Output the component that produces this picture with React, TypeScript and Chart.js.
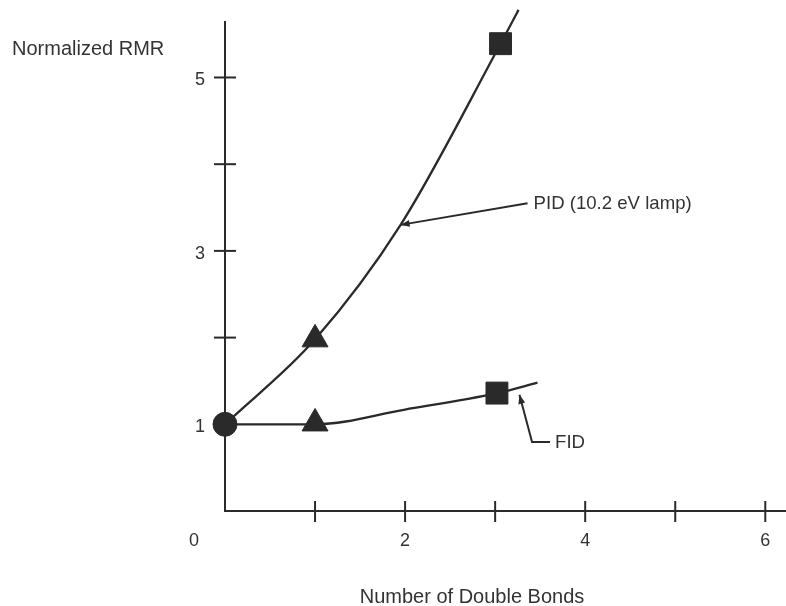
import React, { useEffect, useRef } from 'react';
import { Chart, registerables } from 'chart.js';

Chart.register(...registerables);

// ---- data ----
const pidCurveX = [0, 1, 1.95, 3.06, 3.26];
const pidCurveY = [1, 1.98, 3.3, 5.39, 5.78];
const fidCurveX = [0, 1, 2, 3.02, 3.47];
const fidCurveY = [1, 1.0, 1.17, 1.36, 1.48];

const circleX = [0];
const circleY = [1];
const triangleX = [1, 1];
const triangleY = [1.98, 1.01];
const squareX = [3.06, 3.02];
const squareY = [5.39, 1.36];

const xTicks = [0, 1, 2, 3, 4, 5, 6];
const xTickLabels = ['0', '', '2', '', '4', '', '6'];
const yTicks = [1, 2, 3, 4, 5];
const yTickLabels = ['1', '', '3', '', '5'];

const xTitle = 'Number of Double Bonds';
const yTitle = 'Normalized RMR';
const pidLabel = 'PID (10.2 eV lamp)';
const fidLabel = 'FID';

// annotation anchors (data units)
const pidArrowTip = [1.95, 3.3];
const pidArrowTail = [3.36, 3.55];
const fidArrowTip = [3.27, 1.34];
const fidArrowElbow = [3.41, 0.795];
const fidArrowTail = [3.61, 0.795];

const INK = '#2a2a2a';
const TEXT = '#333333';
const FONT = '"Liberation Sans", Arial, Helvetica, sans-serif';

const zip = (xs: number[], ys: number[]) => xs.map((x, i) => ({ x, y: ys[i] }));

function arrowHead(ctx: CanvasRenderingContext2D, fx: number, fy: number, tx: number, ty: number) {
  const ang = Math.atan2(ty - fy, tx - fx);
  const len = 9;
  const w = 3.5;
  ctx.beginPath();
  ctx.moveTo(tx, ty);
  ctx.lineTo(tx - len * Math.cos(ang) + w * Math.sin(ang), ty - len * Math.sin(ang) - w * Math.cos(ang));
  ctx.lineTo(tx - len * Math.cos(ang) - w * Math.sin(ang), ty - len * Math.sin(ang) + w * Math.cos(ang));
  ctx.closePath();
  ctx.fill();
}

const decor = {
  id: 'decor',
  beforeDatasetsDraw(chart: any) {
    const { ctx, scales } = chart;
    const xs = scales.x;
    const ys = scales.y;
    const x0 = xs.getPixelForValue(0);
    const y0 = ys.getPixelForValue(0);
    ctx.save();
    ctx.strokeStyle = INK;
    ctx.lineWidth = 2;
    xTicks.forEach((v) => {
      if (v === 0) return;
      const px = xs.getPixelForValue(v);
      ctx.beginPath();
      ctx.moveTo(px, y0 - 10);
      ctx.lineTo(px, y0 + 11);
      ctx.stroke();
    });
    yTicks.forEach((v) => {
      const py = ys.getPixelForValue(v);
      ctx.beginPath();
      ctx.moveTo(x0 - 11, py);
      ctx.lineTo(x0 + 11, py);
      ctx.stroke();
    });
    ctx.restore();
  },
  afterDatasetsDraw(chart: any) {
    const { ctx, scales } = chart;
    const xs = scales.x;
    const ys = scales.y;
    const x0 = xs.getPixelForValue(0);
    const y0 = ys.getPixelForValue(0);
    ctx.save();
    ctx.fillStyle = TEXT;
    ctx.font = `18px ${FONT}`;
    ctx.textBaseline = 'middle';
    // x tick labels
    ctx.textAlign = 'center';
    xTicks.forEach((v, i) => {
      const lab = xTickLabels[i];
      if (!lab) return;
      let px = xs.getPixelForValue(v);
      if (v === 0) px -= 31;
      ctx.fillText(lab, px, y0 + 30);
    });
    // y tick labels
    ctx.textAlign = 'right';
    yTicks.forEach((v, i) => {
      const lab = yTickLabels[i];
      if (!lab) return;
      const py = ys.getPixelForValue(v);
      ctx.fillText(lab, x0 - 20, py + 3);
    });
    // titles
    ctx.font = `20px ${FONT}`;
    ctx.textAlign = 'left';
    ctx.fillText(yTitle, 12, 49);
    ctx.textAlign = 'center';
    ctx.fillText(xTitle, 472, 597);

    // PID annotation
    ctx.strokeStyle = INK;
    ctx.fillStyle = INK;
    ctx.lineWidth = 2;
    const ptx = xs.getPixelForValue(pidArrowTip[0]);
    const pty = ys.getPixelForValue(pidArrowTip[1]);
    const pax = xs.getPixelForValue(pidArrowTail[0]);
    const pay = ys.getPixelForValue(pidArrowTail[1]);
    ctx.beginPath();
    ctx.moveTo(pax, pay);
    ctx.lineTo(ptx, pty);
    ctx.stroke();
    arrowHead(ctx, pax, pay, ptx, pty);

    // FID annotation
    const ftx = xs.getPixelForValue(fidArrowTip[0]);
    const fty = ys.getPixelForValue(fidArrowTip[1]);
    const fex = xs.getPixelForValue(fidArrowElbow[0]);
    const fey = ys.getPixelForValue(fidArrowElbow[1]);
    const fax = xs.getPixelForValue(fidArrowTail[0]);
    const fay = ys.getPixelForValue(fidArrowTail[1]);
    ctx.beginPath();
    ctx.moveTo(fax, fay);
    ctx.lineTo(fex, fey);
    ctx.lineTo(ftx, fty);
    ctx.stroke();
    arrowHead(ctx, fex, fey, ftx, fty);

    ctx.fillStyle = TEXT;
    ctx.font = `18.6px ${FONT}`;
    ctx.textAlign = 'left';
    ctx.fillText(pidLabel, pax + 6, pay + 1);
    ctx.fillText(fidLabel, fax + 5, fay + 1);
    ctx.restore();
  },
};

export default function App() {
  const ref = useRef<HTMLCanvasElement | null>(null);
  useEffect(() => {
    if (!ref.current) return;
    const lineStyle = {
      showLine: true,
      pointRadius: 0,
      borderColor: INK,
      borderWidth: 2.3,
      cubicInterpolationMode: 'monotone' as const,
      clip: false as any,
      order: 2,
    };
    const markStyle = {
      showLine: false,
      backgroundColor: INK,
      borderColor: INK,
      borderWidth: 1,
      clip: false as any,
      order: 0,
    };
    const chart = new Chart(ref.current, {
      type: 'scatter',
      data: {
        datasets: [
          { ...lineStyle, label: 'PID curve', data: zip(pidCurveX, pidCurveY) },
          { ...lineStyle, label: 'FID curve', data: zip(fidCurveX, fidCurveY) },
          { ...markStyle, label: 'start', data: zip(circleX, circleY), pointStyle: 'circle', pointRadius: 12 },
          { ...markStyle, label: 'one bond', data: zip(triangleX, triangleY), pointStyle: 'triangle', pointRadius: 15 },
          { ...markStyle, label: 'three bonds', data: zip(squareX, squareY), pointStyle: 'rect', pointRadius: 15.5 },
        ] as any,
      },
      options: {
        animation: false,
        responsive: true,
        maintainAspectRatio: false,
        devicePixelRatio: 1,
        layout: { autoPadding: false, padding: { left: 225, right: 0, top: 22, bottom: 95 } },
        plugins: { legend: { display: false }, tooltip: { enabled: false } },
        events: [],
        scales: {
          x: {
            type: 'linear',
            min: 0,
            max: 6.23,
            ticks: { display: false },
            grid: { display: false, drawTicks: false },
            border: { display: true, color: INK, width: 2 },
          },
          y: {
            type: 'linear',
            min: 0,
            max: 5.64,
            ticks: { display: false },
            grid: { display: false, drawTicks: false },
            border: { display: true, color: INK, width: 2 },
          },
        },
      },
      plugins: [decor],
    });
    return () => chart.destroy();
  }, []);
  return (
    <div style={{ position: 'absolute', left: 0, top: 0, width: 786, height: 606, background: '#fff' }}>
      <canvas ref={ref} />
    </div>
  );
}
